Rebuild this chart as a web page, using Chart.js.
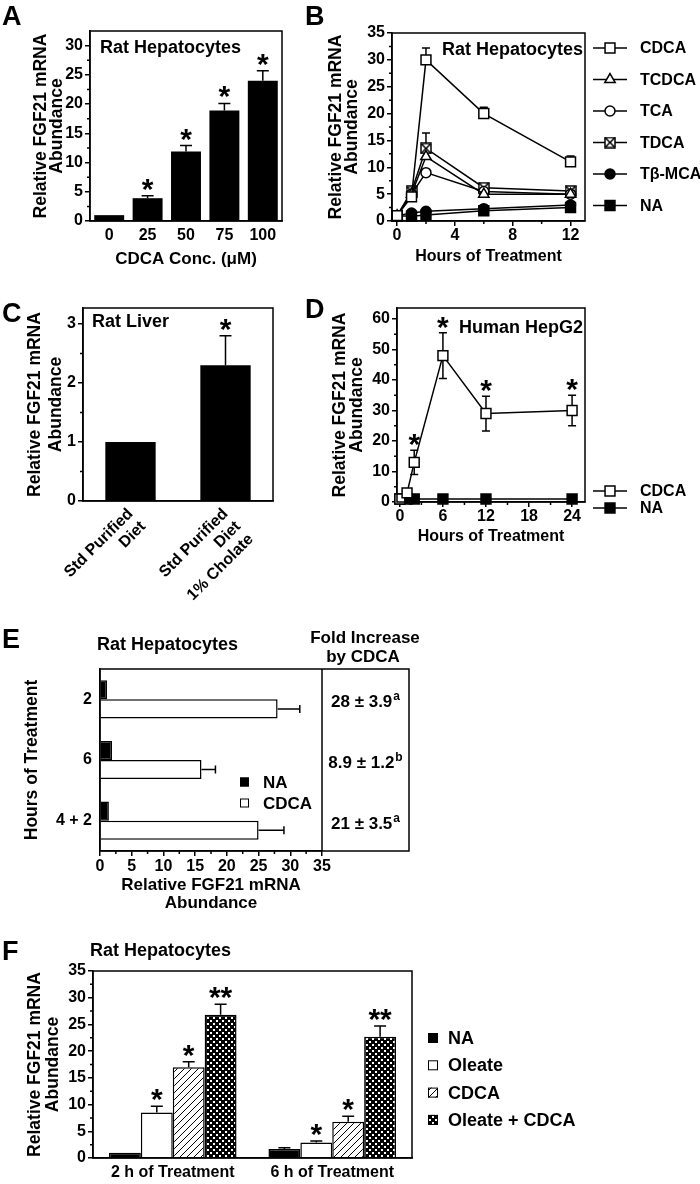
<!DOCTYPE html>
<html><head><meta charset="utf-8">
<script src="https://cdn.jsdelivr.net/npm/chart.js@4.4.1/dist/chart.umd.min.js"></script>
<style>
html,body{margin:0;padding:0;background:#fff;width:700px;height:1184px;overflow:hidden}
canvas{position:absolute;left:0;top:0}
</style></head><body>
<canvas id="cA" width="700" height="1184"></canvas>
<canvas id="cB" width="700" height="1184"></canvas>
<canvas id="cC" width="700" height="1184"></canvas>
<canvas id="cD" width="700" height="1184"></canvas>
<canvas id="cE" width="700" height="1184"></canvas>
<canvas id="cF" width="700" height="1184"></canvas>
<script>
// ---------------- DATA ----------------
// Panel A
const concA = ['0', '25', '50', '75', '100'];
const fgfA = [1, 3.9, 11.9, 18.9, 24];
const errA = [0, 0.4, 1.0, 1.2, 1.7];
const starsA = ['', '*', '*', '*', '*'];
const yTicksA = [0, 5, 10, 15, 20, 25, 30];

// Panel B
const hoursB = [0, 1, 2, 6, 12];
const cdcaB = [1, 4.5, 30, 20, 11];
const cdcaErrB = [0, 0, 2.2, 1.2, 1.1];
const tcdcaB = [1, 5, 12, 5, 5];
const tcdcaErrB = [0, 0, 0, 0, 0];
const tcaB = [1, 5, 9, 5.5, 5];
const tcaErrB = [0, 0, 0, 0, 0];
const tdcaB = [1, 5.5, 13.5, 6.2, 5.6];
const tdcaErrB = [0, 0, 2.9, 0, 0];
const tbmcaB = [1, 1.5, 1.8, 2.3, 3];
const naB = [1, 0.9, 1.1, 1.9, 2.5];
const yTicksB = [0, 5, 10, 15, 20, 25, 30, 35];
const xTicksB = [0, 4, 8, 12];

// Panel C
const dietC = [['Std Purified', 'Diet'], ['Std Purified', 'Diet', '1% Cholate']];
const fgfC = [1, 2.3];
const errC = [0, 0.5];
const starsC = ['', '*'];
const yTicksC = [0, 1, 2, 3];

// Panel D
const hoursD = [0, 1, 2, 6, 12, 24];
const cdcaD = [1, 3, 13, 48, 29, 30];
const cdcaErrD = [0, 0, 4, 7.5, 5.7, 5];
const starsD = ['', '', '*', '*', '*', '*'];
const naD = [1, 1, 1, 1, 1, 1];
const yTicksD = [0, 10, 20, 30, 40, 50, 60];
const xTicksD = [0, 6, 12, 18, 24];

// Panel E
const hoursE = ['2', '6', '4 + 2'];
const naE = [1.1, 1.9, 1.4];
const cdcaE = [28, 16, 25];
const cdcaErrE = [3.5, 2.2, 4];
const foldE = ['28 \u00b1 3.9', '8.9 \u00b1 1.2', '21 \u00b1 3.5'];
const foldSupE = ['a', 'b', 'a'];
const xTicksE = [0, 5, 10, 15, 20, 25, 30, 35];

// Panel F
const timeF = ['2 h of Treatment', '6 h of Treatment'];
const naF = [1.0, 1.7];
const naErrF = [0, 0.2];
const oleateF = [8.5, 2.9];
const oleateErrF = [1.2, 0.3];
const cdcaF = [17.0, 6.8];
const cdcaErrF = [1.0, 1.0];
const oleCdcaF = [26.8, 22.7];
const oleCdcaErrF = [2.0, 2.0];
const starsOleF = ['*', '*'];
const starsCdcaF = ['*', '*'];
const starsOcF = ['**', '**'];
const yTicksF = [0, 5, 10, 15, 20, 25, 30, 35];

// ---------------- SETUP ----------------
const FONT = "'Liberation Sans', Arial, Helvetica, sans-serif";
Chart.defaults.font.family = FONT;
Chart.defaults.font.size = 16;
Chart.defaults.font.weight = 'bold';
Chart.defaults.color = '#000';
Chart.defaults.animation = false;
Chart.defaults.responsive = false;
Chart.defaults.devicePixelRatio = 1;
Chart.defaults.events = [];
Chart.defaults.plugins.legend.display = false;
Chart.defaults.plugins.tooltip.enabled = false;

const pts = (xs, ys) => xs.map((x, i) => ({ x: x, y: ys[i] }));
const range = (a, b, s) => { const r = []; for (let v = a; v <= b + 1e-9; v += s) r.push(+v.toFixed(3)); return r; };

function pad(L, T, R, B, yW, xH) {
  return { left: L - yW, top: T, right: 700 - R, bottom: 1184 - B - xH };
}
function linAxis(o) {
  const horiz = o.pos === 'bottom';
  return {
    type: 'linear', position: o.pos, min: o.min, max: o.max,
    afterBuildTicks: s => { s.ticks = o.ticks.map(v => ({ value: v })); },
    afterFit: s => { if (horiz) s.height = o.size; else s.width = o.size; },
    grid: { display: true, drawOnChartArea: false, drawTicks: true, tickLength: 5, color: '#000', lineWidth: 1.5 },
    border: { display: true, color: '#000', width: 1.5 },
    ticks: { padding: o.pad === undefined ? 2 : o.pad, color: '#000', autoSkip: false, maxRotation: 0, font: { size: 16, weight: 'bold' } },
    title: o.title ? { display: true, text: o.title, padding: 0, color: '#000', font: { size: o.ts || 16, weight: 'bold', lineHeight: o.lh || '18px' } } : { display: false }
  };
}
function catAxis(o) {
  const horiz = o.pos === 'bottom';
  return {
    type: 'category', position: o.pos, offset: true,
    afterFit: s => { if (horiz) s.height = o.size; else s.width = o.size; },
    grid: { display: false, drawTicks: false },
    border: { display: true, color: '#000', width: 1.5 },
    ticks: { padding: o.pad, color: '#000', autoSkip: false, maxRotation: o.rot || 0, minRotation: o.rot || 0, font: { size: 16, weight: 'bold', lineHeight: '18px' } },
    title: o.title ? { display: true, text: o.title, padding: 0, color: '#000', font: { size: o.ts || 16, weight: 'bold', lineHeight: o.lh || '18px' } } : { display: false }
  };
}

// patterns and custom markers
function mkCanvas(w, h, fn) { const c = document.createElement('canvas'); c.width = w; c.height = h; fn(c.getContext('2d')); return c; }
const hatchC = mkCanvas(7, 7, g => {
  g.fillStyle = '#fff'; g.fillRect(0, 0, 7, 7);
  g.strokeStyle = '#000'; g.lineWidth = 1;
  g.beginPath(); g.moveTo(-1, 8); g.lineTo(8, -1); g.stroke();
});
const dotsC = mkCanvas(6, 6, g => {
  g.fillStyle = '#000'; g.fillRect(0, 0, 6, 6);
  g.fillStyle = '#fff'; g.fillRect(0, 0, 2, 2); g.fillRect(3, 3, 2, 2);
});
const hatch = hatchC.getContext('2d').createPattern(hatchC, 'repeat');
const dots = dotsC.getContext('2d').createPattern(dotsC, 'repeat');
const xSquare = mkCanvas(12, 12, g => {
  g.fillStyle = '#fff'; g.fillRect(1, 1, 10, 10);
  g.strokeStyle = '#000'; g.lineWidth = 1.5; g.strokeRect(1, 1, 10, 10);
  g.beginPath(); g.moveTo(1, 1); g.lineTo(11, 11); g.moveTo(11, 1); g.lineTo(1, 11); g.stroke();
});

function marker(ctx, ds, x, y) {
  const st = ds.pointStyle, r = ds.pointRadius;
  ctx.fillStyle = ds.pointBackgroundColor; ctx.strokeStyle = '#000'; ctx.lineWidth = 1.5;
  if (Chart.helpers && Chart.helpers.drawPoint) {
    Chart.helpers.drawPoint(ctx, { pointStyle: st, radius: r, rotation: 0, borderWidth: 1.5 }, x, y);
    return;
  }
  ctx.beginPath();
  if (st instanceof HTMLCanvasElement) { ctx.drawImage(st, x - st.width / 2, y - st.height / 2); return; }
  if (st === 'circle') ctx.arc(x, y, r, 0, Math.PI * 2);
  else if (st === 'triangle') { for (let k = 0; k < 3; k++) { const a = k * 2 * Math.PI / 3; const px = x + Math.sin(a) * r, py = y - Math.cos(a) * r; k ? ctx.lineTo(px, py) : ctx.moveTo(px, py); } ctx.closePath(); }
  else { const s = Math.SQRT1_2 * r; ctx.rect(x - s, y - s, 2 * s, 2 * s); }
  ctx.fill(); ctx.stroke();
}

function deco(cfg) {
  return {
    id: 'deco',
    beforeDatasetsDraw(chart) {
      const ctx = chart.ctx; ctx.save();
      ctx.strokeStyle = '#000'; ctx.lineWidth = 1.5;
      const horiz = chart.options.indexAxis === 'y';
      const vs = horiz ? chart.scales.x : chart.scales.y;
      const c = (cfg.cap || 10) / 2;
      chart.data.datasets.forEach((ds, i) => {
        if (!ds.err) return;
        chart.getDatasetMeta(i).data.forEach((el, j) => {
          const e = ds.err[j]; if (!e) return;
          const d = ds.data[j]; const v = (d !== null && typeof d === 'object') ? d.y : d;
          ctx.beginPath();
          if (horiz) {
            const p2 = vs.getPixelForValue(v + e);
            ctx.moveTo(el.x, el.y); ctx.lineTo(p2, el.y);
            ctx.moveTo(p2, el.y - c); ctx.lineTo(p2, el.y + c);
          } else {
            const p2 = vs.getPixelForValue(v + e);
            ctx.moveTo(el.x, el.y); ctx.lineTo(el.x, p2);
            ctx.moveTo(el.x - c, p2); ctx.lineTo(el.x + c, p2);
            if (cfg.twoSided) {
              const p3 = vs.getPixelForValue(v - e);
              ctx.moveTo(el.x, el.y); ctx.lineTo(el.x, p3);
              ctx.moveTo(el.x - c, p3); ctx.lineTo(el.x + c, p3);
            }
          }
          ctx.stroke();
        });
      });
      ctx.restore();
    },
    afterDraw(chart) {
      const ctx = chart.ctx, a = chart.chartArea;
      ctx.save();
      ctx.strokeStyle = '#000'; ctx.lineWidth = 1.5;
      const fr = cfg.frameRight || a.right;
      ctx.strokeRect(a.left, a.top, fr - a.left, a.bottom - a.top);
      if (cfg.frameRight) { ctx.beginPath(); ctx.moveTo(a.right, a.top); ctx.lineTo(a.right, a.bottom); ctx.stroke(); }
      // minor ticks
      ctx.beginPath();
      (cfg.minorY || []).forEach(v => { const y = chart.scales.y.getPixelForValue(v); ctx.moveTo(a.left - 3, y); ctx.lineTo(a.left, y); });
      (cfg.minorX || []).forEach(v => { const x = chart.scales.x.getPixelForValue(v); ctx.moveTo(x, a.bottom); ctx.lineTo(x, a.bottom + 3); });
      ctx.stroke();
      // stars
      ctx.fillStyle = '#000';
      ctx.font = 'bold ' + (cfg.starSize || 30) + 'px ' + FONT;
      ctx.textAlign = 'center'; ctx.textBaseline = 'alphabetic';
      const m = ctx.measureText('*');
      const desc = m.actualBoundingBoxDescent;
      chart.data.datasets.forEach((ds, i) => {
        if (!ds.stars) return;
        chart.getDatasetMeta(i).data.forEach((el, j) => {
          const s = ds.stars[j]; if (!s) return;
          const d = ds.data[j]; const v = (d !== null && typeof d === 'object') ? d.y : d;
          const e = ds.err ? (ds.err[j] || 0) : 0;
          const top = chart.scales.y.getPixelForValue(v + e);
          ctx.fillText(s, el.x, top - (cfg.starGap || 5) - desc);
        });
      });
      // texts
      (cfg.texts || []).forEach(t => {
        ctx.font = (t.f || 'bold 18px') + ' ' + FONT;
        ctx.textAlign = t.a || 'left'; ctx.textBaseline = 'alphabetic';
        ctx.fillText(t.t, t.x, t.y);
      });
      // legend
      const lg = cfg.legend;
      if (lg) {
        chart.data.datasets.forEach((ds, i) => {
          const y = lg.y0 + i * lg.dy;
          if (lg.type === 'line') {
            ctx.strokeStyle = '#000'; ctx.lineWidth = 1.5;
            ctx.beginPath(); ctx.moveTo(lg.x0, y); ctx.lineTo(lg.x1, y); ctx.stroke();
            marker(ctx, ds, (lg.x0 + lg.x1) / 2, y);
          } else {
            ctx.fillStyle = ds.backgroundColor; ctx.fillRect(lg.x0, y - lg.s / 2, lg.s, lg.s);
            ctx.strokeStyle = '#000'; ctx.lineWidth = 1; ctx.strokeRect(lg.x0 + 0.5, y - lg.s / 2 + 0.5, lg.s - 1, lg.s - 1);
          }
          ctx.fillStyle = '#000'; ctx.font = 'bold ' + (lg.fs || 16) + 'px ' + FONT;
          ctx.textAlign = 'left'; ctx.textBaseline = 'middle';
          ctx.fillText(ds.label, lg.lx, y + 1);
        });
      }
      if (cfg.after) cfg.after(chart, ctx);
      ctx.restore();
    }
  };
}

const yTitle = ['Relative FGF21 mRNA', 'Abundance'];
const LET = 'bold 27px';

// ---------------- PANEL A ----------------
new Chart(document.getElementById('cA'), {
  type: 'bar',
  data: { labels: concA, datasets: [{ label: 'CDCA', data: fgfA, err: errA, stars: starsA, backgroundColor: '#000', borderWidth: 0, categoryPercentage: 1, barPercentage: 0.78 }] },
  options: {
    layout: { padding: pad(90, 31, 282, 221, 57, 47) },
    scales: {
      x: catAxis({ pos: 'bottom', size: 47, pad: 6, title: 'CDCA Conc. (\u03bcM)', ts: 17 }),
      y: linAxis({ pos: 'left', min: 0, max: 32.5, ticks: yTicksA, size: 57, title: yTitle, lh: '16px', ts: 17.5 })
    }
  },
  plugins: [deco({ cap: 12, minorY: range(2.5, 27.5, 5), texts: [{ t: 'A', x: 2, y: 25, f: LET }, { t: 'Rat Hepatocytes', x: 100, y: 53 }] })]
});

// ---------------- PANEL B ----------------
const lineDs = (label, xs, ys, err, style, r, fill) => ({
  label: label, data: pts(xs, ys), err: err, borderColor: '#000', borderWidth: 1.5, pointStyle: style, pointRadius: r,
  pointBackgroundColor: fill, pointBorderColor: '#000', pointBorderWidth: 1.5, tension: 0, fill: false, clip: false
});
new Chart(document.getElementById('cB'), {
  type: 'line',
  data: {
    datasets: [
      lineDs('CDCA', hoursB, cdcaB, cdcaErrB, 'rect', 7, '#fff'),
      lineDs('TCDCA', hoursB, tcdcaB, tcdcaErrB, 'triangle', 6, '#fff'),
      lineDs('TCA', hoursB, tcaB, tcaErrB, 'circle', 5, '#fff'),
      lineDs('TDCA', hoursB, tdcaB, tdcaErrB, xSquare, 6, '#fff'),
      lineDs('T\u03b2-MCA', hoursB, tbmcaB, null, 'circle', 5, '#000'),
      lineDs('NA', hoursB, naB, null, 'rect', 7, '#000')
    ]
  },
  options: {
    layout: { padding: pad(392, 33, 585, 221, 64, 45) },
    scales: {
      x: linAxis({ pos: 'bottom', min: -0.35, max: 13, ticks: xTicksB, size: 45, pad: 0, title: 'Hours of Treatment' }),
      y: linAxis({ pos: 'left', min: 0, max: 35, ticks: yTicksB, size: 64, title: yTitle, lh: '16px', ts: 17.5 })
    }
  },
  plugins: [deco({ cap: 8, minorY: range(2.5, 32.5, 5), minorX: [2, 6, 10],
    texts: [{ t: 'B', x: 305, y: 25, f: LET }, { t: 'Rat Hepatocytes', x: 442, y: 55 }],
    legend: { type: 'line', x0: 593, x1: 627, lx: 640, y0: 48, dy: 31.5 } })]
});

// ---------------- PANEL C ----------------
new Chart(document.getElementById('cC'), {
  type: 'bar',
  data: { labels: dietC, datasets: [{ label: 'Rat Liver', data: fgfC, err: errC, stars: starsC, backgroundColor: '#000', borderWidth: 0, categoryPercentage: 1, barPercentage: 0.53 }] },
  options: {
    layout: { padding: pad(83, 308, 273, 501, 58.5, 100) },
    scales: {
      x: catAxis({ pos: 'bottom', size: 100, pad: 4, rot: 45 }),
      y: linAxis({ pos: 'left', min: 0, max: 3.27, ticks: yTicksC, size: 58.5, title: yTitle, lh: '21px', ts: 17.5 })
    }
  },
  plugins: [deco({ cap: 12, minorY: [0.5, 1.5, 2.5], texts: [{ t: 'C', x: 2, y: 322, f: LET }, { t: 'Rat Liver', x: 92, y: 327 }] })]
});

// ---------------- PANEL D ----------------
const dCdca = lineDs('CDCA', hoursD, cdcaD, cdcaErrD, 'rect', 7, '#fff');
dCdca.stars = starsD;
new Chart(document.getElementById('cD'), {
  type: 'line',
  data: { datasets: [dCdca, lineDs('NA', hoursD, naD, null, 'rect', 7, '#000')] },
  options: {
    layout: { padding: pad(397, 308, 585, 502, 65.5, 44) },
    scales: {
      x: linAxis({ pos: 'bottom', min: -0.4, max: 25.8, ticks: xTicksD, size: 44, pad: 0, title: 'Hours of Treatment' }),
      y: linAxis({ pos: 'left', min: 0, max: 63.6, ticks: yTicksD, size: 65.5, title: yTitle, lh: '17px', ts: 17.5 })
    }
  },
  plugins: [deco({ cap: 8, twoSided: true, starGap: 4, minorY: range(5, 55, 10), minorX: [3, 9, 15, 21],
    texts: [{ t: 'D', x: 305, y: 318, f: LET }, { t: 'Human HepG2', x: 459, y: 333 }],
    legend: { type: 'line', x0: 593, x1: 627, lx: 640, y0: 491, dy: 17 } })]
});

// ---------------- PANEL E ----------------
new Chart(document.getElementById('cE'), {
  type: 'bar',
  data: {
    labels: hoursE,
    datasets: [
      { label: 'NA', data: naE, backgroundColor: '#000', borderColor: '#000', borderWidth: 1.5, categoryPercentage: 0.63, barPercentage: 1 },
      { label: 'CDCA', data: cdcaE, err: cdcaErrE, backgroundColor: '#fff', borderColor: '#000', borderWidth: 1.5, categoryPercentage: 0.63, barPercentage: 1 }
    ]
  },
  options: {
    indexAxis: 'y',
    layout: { padding: pad(100, 669, 322, 851, 77, 61) },
    scales: {
      x: linAxis({ pos: 'bottom', min: 0, max: 35, ticks: xTicksE, size: 61, pad: 1, title: yTitle, lh: '18px', ts: 17 }),
      y: catAxis({ pos: 'left', size: 77, pad: 8, title: 'Hours of Treatment', ts: 17.5 })
    }
  },
  plugins: [deco({ cap: 8, frameRight: 409, minorX: range(2.5, 32.5, 5),
    texts: [{ t: 'E', x: 2, y: 648, f: LET }, { t: 'Rat Hepatocytes', x: 97, y: 650 },
            { t: 'Fold Increase', x: 365, y: 643, a: 'center', f: 'bold 17px' }, { t: 'by CDCA', x: 363, y: 662, a: 'center', f: 'bold 17px' }],
    legend: { type: 'box', x0: 240, s: 9, lx: 263, y0: 782, dy: 21, fs: 17 },
    after: (chart, ctx) => {
      const ys = chart.scales.y;
      foldE.forEach((s, i) => {
        const y = ys.getPixelForValue(i) + 8;
        ctx.font = 'bold 17px ' + FONT;
        const w1 = ctx.measureText(s).width;
        ctx.font = 'bold 12px ' + FONT;
        const w2 = ctx.measureText(foldSupE[i]).width;
        const x0 = 365 - (w1 + w2) / 2;
        ctx.textAlign = 'left'; ctx.textBaseline = 'alphabetic'; ctx.fillStyle = '#000';
        ctx.font = 'bold 17px ' + FONT; ctx.fillText(s, x0, y);
        ctx.font = 'bold 12px ' + FONT; ctx.fillText(foldSupE[i], x0 + w1 + 1, y - 7);
      });
    } })]
});

// ---------------- PANEL F ----------------
const barF = (label, data, err, stars, bg) => ({ label: label, data: data, err: err, stars: stars, backgroundColor: bg, borderColor: '#000', borderWidth: 1.5, categoryPercentage: 0.8, barPercentage: 1 });
new Chart(document.getElementById('cF'), {
  type: 'bar',
  data: {
    labels: timeF,
    datasets: [
      barF('NA', naF, naErrF, null, '#000'),
      barF('Oleate', oleateF, oleateErrF, starsOleF, '#fff'),
      barF('CDCA', cdcaF, cdcaErrF, starsCdcaF, hatch),
      barF('Oleate + CDCA', oleCdcaF, oleCdcaErrF, starsOcF, dots)
    ]
  },
  options: {
    layout: { padding: pad(93, 971, 412, 1158, 67, 26) },
    scales: {
      x: catAxis({ pos: 'bottom', size: 26, pad: 6 }),
      y: linAxis({ pos: 'left', min: 0, max: 35, ticks: yTicksF, size: 67, title: yTitle, lh: '18px', ts: 17.5 })
    }
  },
  plugins: [deco({ cap: 12, minorY: range(2.5, 32.5, 5),
    texts: [{ t: 'F', x: 2, y: 960, f: LET }, { t: 'Rat Hepatocytes', x: 90, y: 956 }],
    legend: { type: 'box', x0: 428, s: 10, lx: 448, y0: 1038, dy: 27.3, fs: 18 } })]
});
</script>
</body></html>
